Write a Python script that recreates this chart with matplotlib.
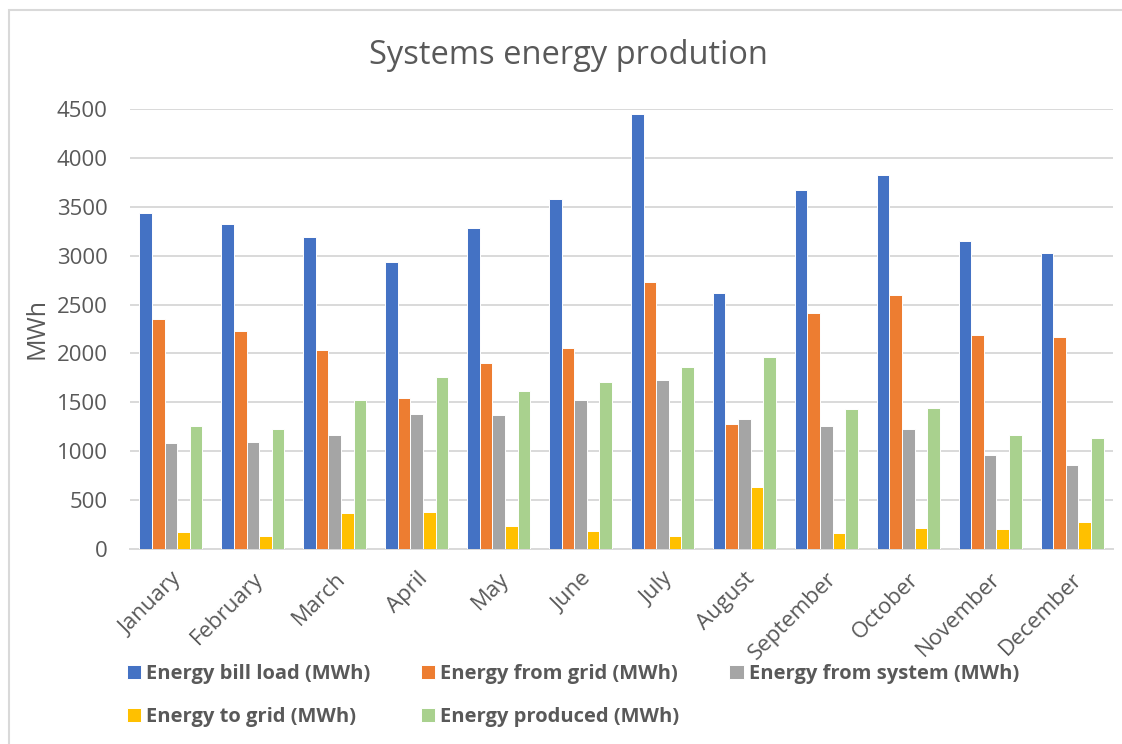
import numpy as np
import matplotlib
matplotlib.use('Agg')
import matplotlib.pyplot as plt
from matplotlib.patches import Rectangle

plt.rcParams['font.family'] = ['Open Sans', 'DejaVu Sans']

months = ['January', 'February', 'March', 'April', 'May', 'June',
          'July', 'August', 'September', 'October', 'November', 'December']

bill_load = [3438, 3326, 3193, 2934, 3281, 3581, 4452, 2618, 3673, 3823, 3152, 3023]
from_grid = [2352, 2226, 2032, 1549, 1903, 2053, 2727, 1283, 2413, 2601, 2189, 2165]
from_system = [1089, 1096, 1164, 1385, 1375, 1525, 1726, 1334, 1263, 1225, 963, 858]
to_grid = [174, 136, 364, 378, 235, 180, 133, 637, 167, 214, 204, 279]
produced = [1259, 1232, 1522, 1763, 1613, 1705, 1859, 1968, 1430, 1437, 1171, 1140]

series = [
    ('Energy bill load (MWh)', bill_load, '#4472C4'),
    ('Energy from grid (MWh)', from_grid, '#ED7D31'),
    ('Energy from system (MWh)', from_system, '#A5A5A5'),
    ('Energy to grid (MWh)', to_grid, '#FFC000'),
    ('Energy produced (MWh)', produced, '#A9D18E'),
]

text_col = '#595959'
grid_col = '#D9D9D9'

fig = plt.figure(figsize=(11.22, 7.44), dpi=100)
ax = fig.add_axes([130 / 1122, 1 - 549 / 744, 983 / 1122, 440 / 744])

# chart border
fig.patches.append(Rectangle((9 / 1122, -0.05), 1.2, 1 - 10 / 744 + 0.05,
                             transform=fig.transFigure, fill=False,
                             edgecolor=grid_col, linewidth=1.5))

x = np.arange(len(months))
width = 0.154
bars = []
for i, (name, vals, col) in enumerate(series):
    b = ax.bar(x + (i - 2) * width, vals, width, color=col, label=name,
               edgecolor='white', linewidth=0.7, zorder=3)
    bars.append(b)

ax.set_xlim(-0.5, len(months) - 0.5)
ax.set_ylim(0, 4500)
ax.set_yticks(np.arange(0, 4501, 500))
ax.yaxis.grid(True, color=grid_col, linewidth=1.4, zorder=0)
for s in ['top', 'right', 'left']:
    ax.spines[s].set_visible(False)
ax.spines['bottom'].set_color(grid_col)
ax.spines['bottom'].set_linewidth(1.4)
ax.tick_params(axis='both', length=0, colors=text_col, labelsize=16)
ax.tick_params(axis='y', pad=16)
ax.set_xticks(x)
ax.set_xticklabels(months, rotation=45, ha='right', rotation_mode='anchor')
ax.tick_params(axis='x', pad=14)

fig.text(37 / 1122, 1 - 328 / 744, 'MWh', color=text_col, fontsize=18,
         rotation=90, ha='center', va='center')
fig.text(0.507, 1 - 55 / 744, 'Systems energy prodution', color=text_col,
         fontsize=23.5, ha='center', va='center')

# legend rows go left to right, so reorder for column-major filling
order = [0, 3, 1, 4, 2]
leg = fig.legend([bars[k] for k in order], [series[k][0] for k in order],
                 ncol=3, loc='upper left', bbox_to_anchor=(109 / 1122, 1 - 646 / 744),
                 frameon=False, handlelength=0.7, handleheight=0.7,
                 handletextpad=0.25, columnspacing=2.5, labelspacing=1.15,
                 prop={'weight': 'bold', 'size': 14.5})
for t in leg.get_texts():
    t.set_color(text_col)

fig.savefig('out.png', dpi=100, facecolor='white')
